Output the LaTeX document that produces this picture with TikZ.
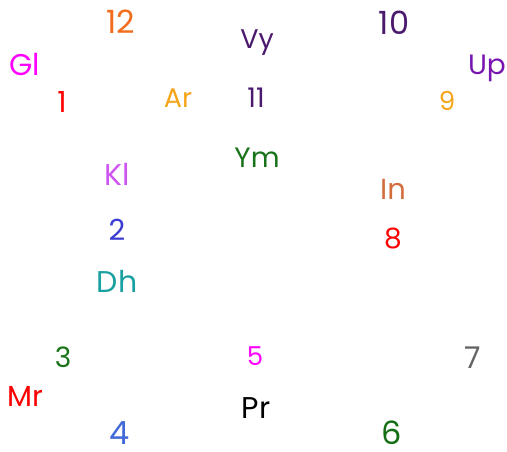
\documentclass[tikz,border=0pt]{standalone}
\usepackage{fontspec}
\setmainfont{Poppins}
\tikzset{
  lab/.style={anchor=base, inner sep=0pt, outer sep=0pt},
  sz/.style={font=\fontsize{#1}{#1}\selectfont}
}
\definecolor{cmag}{RGB}{255,0,255}
\definecolor{cred}{RGB}{255,0,0}
\definecolor{corange}{RGB}{240,110,30}
\definecolor{cgold}{RGB}{245,165,25}
\definecolor{cindigo}{RGB}{75,25,110}
\definecolor{cpurple}{RGB}{120,20,175}
\definecolor{corchid}{RGB}{205,85,240}
\definecolor{cdgreen}{RGB}{25,115,25}
\definecolor{cperu}{RGB}{210,110,60}
\definecolor{cblue}{RGB}{60,60,210}
\definecolor{cteal}{RGB}{25,160,160}
\definecolor{cgreen}{RGB}{20,110,20}
\definecolor{cgray}{RGB}{100,100,100}
\definecolor{croyal}{RGB}{65,105,215}
\begin{document}
\begin{tikzpicture}[x=1pt,y=-1pt]
\useasboundingbox (0,0) rectangle (507,451);
\node[lab, sz=32, text=corange] (n12) at (121,33) {12};
\node[lab, sz=30, text=cmag] (gl) at (25,75) {Gl};
\node[lab, sz=29, text=cred] (n1) at (62,112) {1};
\node[lab, sz=27, text=cgold] (ar) at (178,107) {Ar};
\node[lab, sz=27, text=cindigo] (vy) at (257,48) {Vy};
\node[lab, sz=27, text=cindigo] (n11) at (256,107) {11};
\node[lab, sz=32, text=cindigo] (n10) at (394,34) {10};
\node[lab, sz=28, text=cpurple] (up) at (487,74) {Up};
\node[lab, sz=26, text=cgold] (n9) at (447,110) {9};
\node[lab, sz=30, text=corchid] (kl) at (117,185) {Kl};
\node[lab, sz=29, text=cblue] (n2) at (117,240) {2};
\node[lab, sz=30, text=cteal] (dh) at (117,292) {Dh};
\node[lab, sz=28, text=cdgreen] (ym) at (257,167) {Ym};
\node[lab, sz=29, text=cperu] (in) at (393,199) {In};
\node[lab, sz=28, text=cred] (n8) at (393,248) {8};
\node[lab, sz=28, text=cdgreen] (n3) at (63,367) {3};
\node[lab, sz=26, text=cmag] (n5) at (255,365) {5};
\node[lab, sz=30, text=cgray] (n7) at (473,368) {7};
\node[lab, sz=29, text=cred] (mr) at (25,406) {Mr};
\node[lab, sz=30, text=black] (pr) at (256,418) {Pr};
\node[lab, sz=32, text=croyal] (n4) at (120,444) {4};
\node[lab, sz=32, text=cgreen] (n6) at (392,444) {6};
\end{tikzpicture}
\end{document}
